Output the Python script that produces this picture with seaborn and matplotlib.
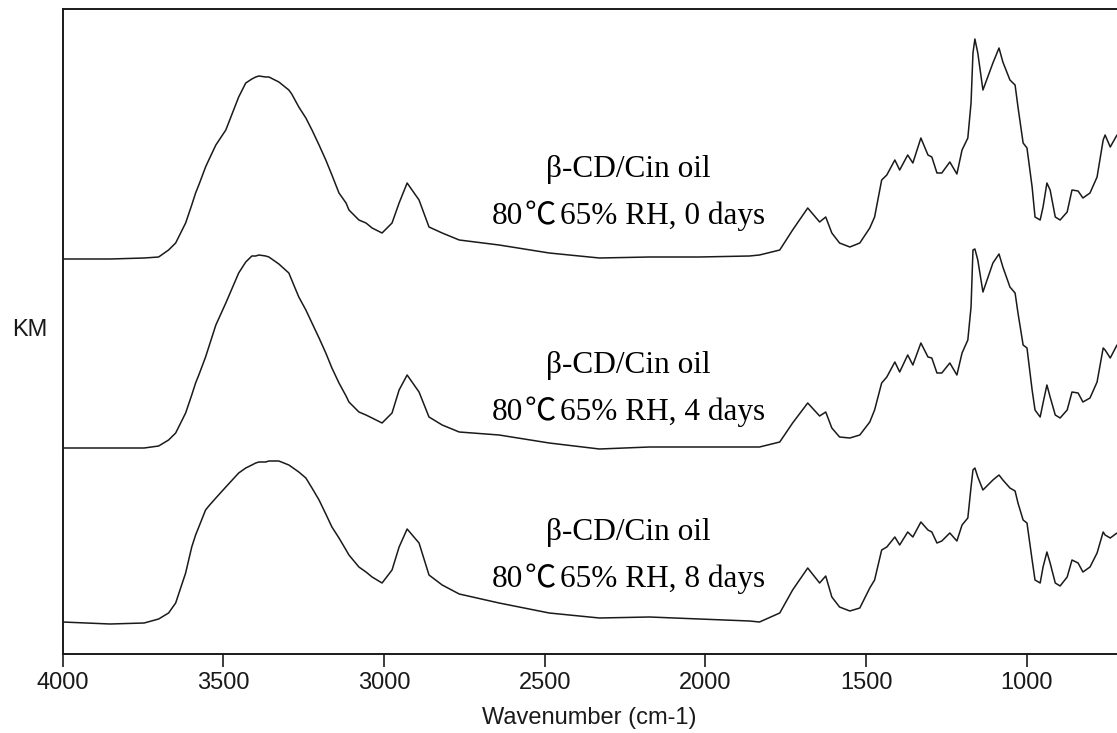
import numpy as np
import pandas as pd
import matplotlib
matplotlib.use("Agg")
import matplotlib.pyplot as plt
import seaborn as sns
from matplotlib.offsetbox import TextArea, HPacker, VPacker, AnnotationBbox, DrawingArea

# wavenumbers (cm-1), shared by the three spectra
wavenumber = [
    4000, 3852, 3746, 3701, 3670, 3648, 3617, 3598, 3586, 3576, 3555, 3545, 3523,
    3492, 3452, 3430, 3411, 3399, 3389, 3368, 3358, 3327, 3296, 3287, 3265, 3243,
    3224, 3202, 3181, 3162, 3140, 3118, 3109, 3078, 3056, 3037, 3006, 2975, 2953,
    2928, 2891, 2860, 2819, 2766, 2642, 2486, 2330, 2174, 2019, 1863, 1832, 1769,
    1729, 1682, 1645, 1626, 1607, 1583, 1551, 1520, 1489, 1474, 1452, 1436, 1411,
    1396, 1371, 1355, 1330, 1308, 1296, 1280, 1265, 1240, 1218, 1202, 1184, 1174,
    1168, 1162, 1153, 1137, 1106, 1087, 1075, 1053, 1037, 1028, 1012, 1000, 984,
    975, 959, 950, 938, 928, 912, 897, 875, 860, 841, 826, 804, 782, 763, 757,
    741, 720,
]

# stacked KM values (arbitrary units, offset included as drawn)
km_0days = [
    395, 395, 396, 397, 404, 411, 431, 449, 461, 469, 487, 494, 509,
    524, 557, 571, 575, 577, 578, 577, 577, 572, 564, 560, 547, 536,
    524, 509, 494, 479, 461, 451, 444, 434, 431, 426, 421, 431, 451,
    471, 454, 427, 421, 414, 409, 401, 396, 397, 397, 398, 399, 404,
    424, 446, 432, 437, 421, 411, 407, 411, 426, 437, 474, 479, 494,
    484, 499, 491, 516, 499, 497, 481, 481, 492, 480, 504, 516, 551,
    601, 615, 601, 564, 591, 606, 592, 574, 569, 547, 511, 506, 467,
    437, 434, 447, 471, 464, 437, 434, 442, 464, 463, 456, 461, 477, 514, 519,
    507, 519,
]
km_4days = [
    206, 206, 206, 208, 214, 221, 241, 259, 271, 279, 297, 307, 329,
    351, 381, 392, 398, 398, 399, 398, 397, 390, 381, 374, 357, 344,
    331, 316, 301, 286, 271, 258, 252, 242, 239, 236, 231, 241, 264,
    279, 262, 237, 229, 222, 219, 211, 205, 207, 207, 207, 207, 212,
    231, 251, 238, 242, 226, 217, 216, 219, 232, 244, 271, 277, 292,
    282, 299, 289, 311, 297, 296, 281, 281, 291, 279, 301, 314, 347,
    404, 405, 394, 362, 391, 400, 387, 367, 361, 341, 309, 306, 264,
    244, 237, 251, 269, 257, 239, 236, 244, 262, 261, 252, 256, 272, 306, 304,
    296, 309,
]
km_8days = [
    32, 30, 31, 35, 41, 51, 81, 107, 119, 127, 144, 148, 156,
    167, 181, 186, 189, 191, 192, 192, 193, 193, 189, 187, 182, 176,
    166, 154, 140, 127, 116, 104, 99, 87, 82, 77, 71, 84, 107,
    125, 111, 79, 69, 60, 51, 41, 36, 37, 35, 33, 32, 41,
    64, 86, 71, 78, 57, 47, 43, 46, 66, 74, 104, 107, 117,
    109, 122, 117, 132, 124, 122, 111, 113, 121, 113, 129, 136, 167,
    184, 186, 177, 164, 174, 179, 174, 166, 163, 151, 134, 131, 94,
    74, 71, 87, 102, 91, 71, 68, 77, 94, 91, 82, 87, 101, 122, 119,
    116, 121,
]

samples = ["0 days", "4 days", "8 days"]
label_line1 = "β-CD/Cin oil"
label_temp = "80"
label_rest = ["65% RH, 0 days", "65% RH, 4 days", "65% RH, 8 days"]
label_y = [461, 265, 98]
label_x = 2240

df = pd.concat([
    pd.DataFrame({"wavenumber": wavenumber, "KM": vals, "sample": s})
    for s, vals in zip(samples, [km_0days, km_4days, km_8days])
])

sns.set_style("white")
plt.rcParams["font.family"] = ["Liberation Sans", "DejaVu Sans"]

fig = plt.figure(figsize=(11.17, 7.33), dpi=100)
ax = fig.add_axes([62.5 / 1117, 1 - 654 / 733, 1 - 62.5 / 1117, 645 / 733])

sns.lineplot(data=df, x="wavenumber", y="KM", hue="sample",
             palette=["#1a1a1a"] * 3, estimator=None, sort=False,
             linewidth=1.1, legend=False, ax=ax)

ax.set_xlim(4000, 720)
ax.set_ylim(0, 645)
ax.set_xticks([4000, 3500, 3000, 2500, 2000, 1500, 1000])
ax.set_yticks([])
ax.tick_params(axis="x", direction="out", length=9, width=1.2, pad=4,
               labelsize=17, colors="#1a1a1a", bottom=True)

for side in ["left", "top", "bottom"]:
    ax.spines[side].set_linewidth(1.4)
    ax.spines[side].set_color("#1a1a1a")
ax.spines["right"].set_visible(False)

ax.set_xlabel("")
ax.set_ylabel("")
ax.text(0.5, -0.099, "Wavenumber (cm-1)", transform=ax.transAxes,
        ha="center", va="center", fontsize=17, color="#1a1a1a")
ax.text(-0.031, 0.502, "KM", transform=ax.transAxes,
        ha="center", va="center", fontsize=17, color="#1a1a1a")

serif = dict(fontsize=22.5, family="Liberation Serif", color="black")
cjk = dict(fontsize=22.5, family="Noto Sans CJK SC", fontweight="light",
           color="black")
for y, rest in zip(label_y, label_rest):
    line1 = TextArea(label_line1, textprops=serif)
    line2 = HPacker(children=[TextArea(label_temp, textprops=serif),
                              DrawingArea(1.0, 1),
                              TextArea("℃", textprops=cjk),
                              DrawingArea(3.0, 1),
                              TextArea(rest, textprops=serif)],
                    align="baseline", pad=0, sep=0)
    box = VPacker(children=[line1, line2], align="center", pad=0, sep=11)
    ab = AnnotationBbox(box, (label_x, y), xycoords="data",
                        box_alignment=(0.5, 0.5), frameon=False, pad=0)
    ax.add_artist(ab)

fig.savefig("out.png", dpi=100)
